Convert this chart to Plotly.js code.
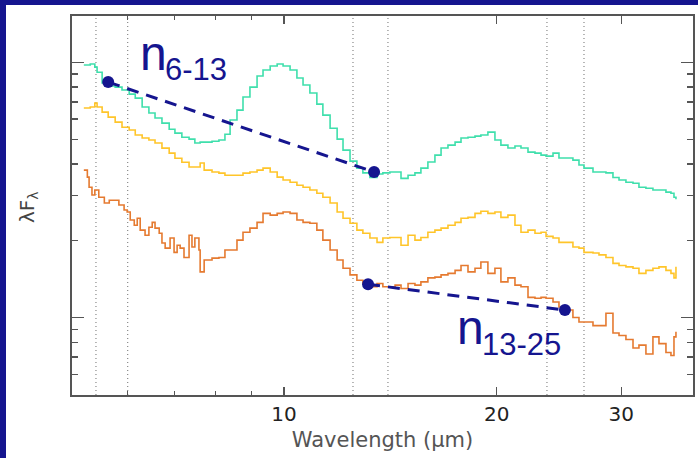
<!DOCTYPE html>
<html>
<head>
<meta charset="utf-8">
<script src="https://cdn.plot.ly/plotly-3.0.1.min.js"></script>
<style>
  html, body { margin: 0; padding: 0; background: #ffffff; }
  #chart { width: 698px; height: 458px; }
</style>
</head>
<body>
<div id="chart"></div>
<script>
// Wavelength grid (micron)
const wavelength = [5.21, 5.32, 5.40, 5.44, 5.53, 5.64, 5.77, 5.90, 6.04, 6.16,
  6.30, 6.44, 6.57, 6.72, 6.88, 7.01, 7.17, 7.34, 7.48, 7.61,
  7.71, 7.91, 8.09, 8.25, 8.39, 8.58, 8.75, 8.95, 9.16, 9.34,
  9.56, 9.78, 9.97, 10.20, 10.43, 10.64, 10.88, 11.13, 11.35, 11.62,
  11.89, 12.12, 12.40, 12.68, 12.93, 13.23, 13.54, 13.80, 14.12, 14.36,
  14.64, 14.98, 15.32, 15.62, 15.98, 16.35, 16.68, 17.06, 17.46, 17.80,
  18.21, 18.63, 18.99, 19.43, 19.88, 20.27, 20.74, 21.22, 21.64, 22.14,
  22.65, 23.10, 23.48, 24.02, 24.49, 25.06, 25.63, 26.14, 26.57, 27.36,
  27.90, 28.54, 29.20, 29.78, 30.46, 31.17, 31.78, 32.51, 33.26, 33.92,
  34.70, 35.27, 35.62, 35.85];

// lambda F_lambda (arbitrary units) for the three spectra
const fluxGreen = [9.76, 9.85, 9.58, 9.15, 8.30, 8.08, 8.00, 7.79, 7.51, 7.24,
  6.68, 6.33, 6.05, 5.78, 5.47, 5.28, 5.09, 5.00, 4.83, 4.87,
  4.87, 4.91, 4.96, 5.23, 5.94, 6.50, 7.31, 8.00, 8.84, 9.33,
  9.67, 9.85, 9.67, 9.33, 8.68, 8.15, 7.58, 6.86, 6.21, 5.52,
  5.00, 4.53, 4.10, 3.85, 3.69, 3.54, 3.65, 3.69, 3.72, 3.72,
  3.51, 3.61, 3.69, 3.85, 4.07, 4.33, 4.62, 4.74, 4.87, 5.05,
  5.09, 5.14, 5.19, 5.33, 4.96, 4.74, 4.62, 4.70, 4.62, 4.45,
  4.41, 4.33, 4.29, 4.41, 4.22, 4.22, 4.14, 3.96, 3.85, 3.72,
  3.72, 3.69, 3.54, 3.46, 3.39, 3.36, 3.24, 3.21, 3.16, 3.16,
  3.10, 3.07, 2.96, 2.91];

const fluxYellow = [6.62, 6.68, 6.92, 6.68, 6.38, 6.10, 5.83, 5.57, 5.43, 5.19,
  5.05, 4.96, 4.83, 4.61, 4.41, 4.21, 4.06, 3.89, 3.89, 4.03,
  3.78, 3.72, 3.68, 3.61, 3.61, 3.61, 3.68, 3.72, 3.78, 3.85,
  3.72, 3.55, 3.46, 3.39, 3.30, 3.24, 3.16, 3.07, 2.96, 2.81,
  2.59, 2.45, 2.34, 2.20, 2.14, 2.05, 1.97, 2.05, 2.06, 2.06,
  1.92, 2.10, 2.01, 2.06, 2.16, 2.20, 2.24, 2.30, 2.36, 2.45,
  2.47, 2.56, 2.61, 2.56, 2.59, 2.47, 2.52, 2.30, 2.16, 2.20,
  2.14, 2.16, 2.08, 2.05, 1.97, 1.97, 1.89, 1.87, 1.80, 1.79,
  1.76, 1.72, 1.63, 1.60, 1.58, 1.56, 1.49, 1.53, 1.56, 1.58,
  1.53, 1.49, 1.43, 1.58];

// orange spectrum: finely sampled noisy short-wavelength part ...
const orangeWaveStart = [5.21, 5.27, 5.30, 5.35, 5.40, 5.47, 5.57, 5.66, 5.75, 5.84,
  5.94, 6.00, 6.06, 6.14, 6.20, 6.26, 6.36, 6.44, 6.51, 6.57,
  6.66, 6.72, 6.79, 6.90, 6.99, 7.06, 7.13, 7.22, 7.34, 7.41,
  7.48, 7.58, 7.61, 7.71, 7.91, 8.09, 8.25];
const orangeFluxStart = [3.78, 3.55, 3.24, 3.02, 3.16, 2.96, 2.81, 2.88, 2.88, 2.76,
  2.64, 2.59, 2.41, 2.30, 2.45, 2.20, 2.10, 2.26, 2.36, 2.24,
  2.14, 1.96, 1.87, 2.05, 1.80, 1.92, 1.87, 1.72, 2.10, 1.89,
  2.05, 1.84, 1.51, 1.68, 1.71, 1.72, 1.84];
// ... and the rest, on the common grid from 8.39 micron on
const fluxOrangeRest = [1.84, 2.01, 2.16, 2.24, 2.36, 2.56,
  2.52, 2.56, 2.59, 2.56, 2.41, 2.36, 2.34, 2.20, 2.01, 1.84,
  1.68, 1.56, 1.47, 1.40, 1.36, 1.32, 1.36, 1.32, 1.32, 1.34,
  1.30, 1.36, 1.34, 1.38, 1.43, 1.44, 1.47, 1.49, 1.53, 1.60,
  1.51, 1.56, 1.65, 1.49, 1.56, 1.38, 1.43, 1.34, 1.32, 1.20,
  1.19, 1.20, 1.19, 1.15, 1.10, 1.07, 1.00, 0.96, 0.96, 0.93,
  0.93, 1.04, 0.87, 0.85, 0.82, 0.76, 0.78, 0.72, 0.84, 0.79,
  0.73, 0.71, 0.84, 0.88];
const orangeRestStartIndex = 24; // wavelength[24] = 8.39

// Spectral index segments (dashed lines with end points)
const index613Wave = [5.64, 13.41];
const index613Flux = [8.37, 3.72];
const index1325Wave = [13.15, 24.97];
const index1325Flux = [1.35, 1.07];

// Dotted vertical marker wavelengths
const markerWaves = [5.42, 6.01, 12.52, 14.03, 23.55, 26.57];

// Axis ticks
const xMajorTicks = [10, 20, 30];
const xMajorLabels = ['10', '20', '30'];
const xMinorTicks = [6, 7, 8, 9];
const yMajorTicks = [1, 10];
const yMinorTicks = [0.6, 0.7, 0.8, 0.9, 2, 3, 4, 5, 6, 7, 8, 9];

const NAVY = '#15158f';
const AXIS = '#555555';

const orangeWave = orangeWaveStart.concat(wavelength.slice(orangeRestStartIndex));
const orangeFlux = orangeFluxStart.concat(fluxOrangeRest);

const traces = [
  { x: wavelength, y: fluxGreen, mode: 'lines', line: { color: '#3fdfac', width: 1.6, shape: 'hv' }, hoverinfo: 'skip' },
  { x: wavelength, y: fluxYellow, mode: 'lines', line: { color: '#ffc52a', width: 1.6, shape: 'hv' }, hoverinfo: 'skip' },
  { x: orangeWave, y: orangeFlux, mode: 'lines', line: { color: '#e57a30', width: 1.6, shape: 'hv' }, hoverinfo: 'skip' },
  { x: index613Wave, y: index613Flux, mode: 'lines+markers', line: { color: NAVY, width: 3, dash: '12px,8px' }, marker: { color: NAVY, size: 12 }, hoverinfo: 'skip' },
  { x: index1325Wave, y: index1325Flux, mode: 'lines+markers', line: { color: NAVY, width: 3, dash: '12px,8px' }, marker: { color: NAVY, size: 12 }, hoverinfo: 'skip' }
];

const shapes = markerWaves.map(w => ({
  type: 'line', xref: 'x', yref: 'paper', x0: w, x1: w, y0: 0, y1: 1,
  line: { color: '#888888', width: 1.2, dash: '1px,3px' }, layer: 'below'
}));
// page border (navy strip top and left)
shapes.push({ type: 'rect', xref: 'paper', yref: 'paper', x0: -72/621, x1: -66/621, y0: -63/379, y1: 1 + 16/379, fillcolor: NAVY, line: { width: 0 }, layer: 'below' });
shapes.push({ type: 'rect', xref: 'paper', yref: 'paper', x0: -72/621, x1: 1 + 5/621, y0: 1 + 11/379, y1: 1 + 16/379, fillcolor: NAVY, line: { width: 0 }, layer: 'below' });

const layout = {
  width: 698, height: 458,
  margin: { l: 72, r: 5, t: 16, b: 63 },
  paper_bgcolor: '#ffffff', plot_bgcolor: '#ffffff',
  showlegend: false,
  xaxis: {
    type: 'log', range: [0.7001, 1.5786],
    tickmode: 'array', tickvals: xMajorTicks, ticktext: xMajorLabels,
    ticks: 'inside', ticklen: 8, tickwidth: 1.3, tickcolor: AXIS,
    minor: { tickmode: 'array', tickvals: xMinorTicks, ticks: 'inside', ticklen: 4, tickwidth: 1.3, tickcolor: AXIS },
    showline: true, linecolor: AXIS, linewidth: 1.6, mirror: 'ticks',
    showgrid: false, zeroline: false,
    tickfont: { family: 'DejaVu Sans, sans-serif', size: 20, color: '#222222' },
    title: { text: 'Wavelength (μm)', font: { family: 'DejaVu Sans, sans-serif', size: 21, color: '#555555' }, standoff: 8 }
  },
  yaxis: {
    type: 'log', range: [-0.3035, 1.1816],
    tickmode: 'array', tickvals: yMajorTicks, showticklabels: false,
    ticks: 'inside', ticklen: 12, tickwidth: 1.3, tickcolor: AXIS,
    minor: { tickmode: 'array', tickvals: yMinorTicks, ticks: 'inside', ticklen: 6, tickwidth: 1.3, tickcolor: AXIS },
    showline: true, linecolor: AXIS, linewidth: 1.6, mirror: 'ticks',
    showgrid: false, zeroline: false
  },
  shapes: shapes,
  annotations: [
    { xref: 'paper', yref: 'paper', x: (28 - 72) / 621, y: (395 - 207) / 379, xanchor: 'center', yanchor: 'middle', text: 'λF<sub>λ</sub>', showarrow: false, textangle: -90,
      font: { family: 'DejaVu Sans, sans-serif', size: 20, color: '#444444' } },
    { xref: 'paper', yref: 'paper', x: (138 - 72) / 621, y: (395 - 82) / 379, xanchor: 'left', yanchor: 'bottom', text: 'n', showarrow: false,
      font: { family: 'Liberation Sans, Arial, sans-serif', size: 48, color: NAVY } },
    { xref: 'paper', yref: 'paper', x: (163 - 72) / 621, y: (395 - 89) / 379, xanchor: 'left', yanchor: 'bottom', text: '6-13', showarrow: false,
      font: { family: 'Liberation Sans, Arial, sans-serif', size: 31, color: NAVY } },
    { xref: 'paper', yref: 'paper', x: (455 - 72) / 621, y: (395 - 356) / 379, xanchor: 'left', yanchor: 'bottom', text: 'n', showarrow: false,
      font: { family: 'Liberation Sans, Arial, sans-serif', size: 48, color: NAVY } },
    { xref: 'paper', yref: 'paper', x: (480 - 72) / 621, y: (395 - 364) / 379, xanchor: 'left', yanchor: 'bottom', text: '13-25', showarrow: false,
      font: { family: 'Liberation Sans, Arial, sans-serif', size: 31, color: NAVY } }
  ]
};

Plotly.newPlot('chart', traces, layout, { displayModeBar: false, staticPlot: true });
</script>
</body>
</html>
